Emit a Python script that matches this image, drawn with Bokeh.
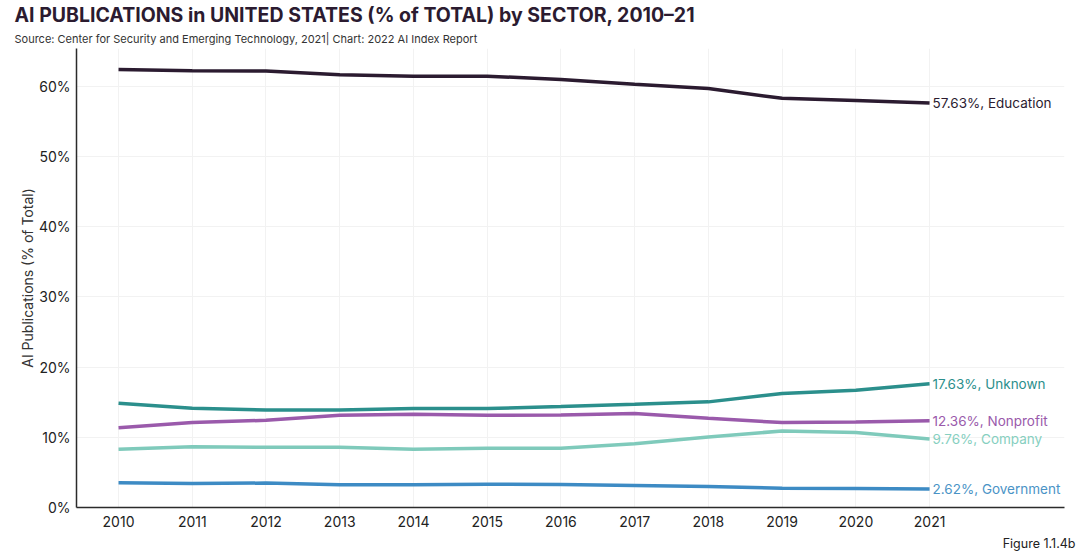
from bokeh.plotting import figure
from bokeh.models import Title, Range1d, FixedTicker, ColumnDataSource, Label
from bokeh.embed import file_html
from bokeh.resources import INLINE

years = [2010, 2011, 2012, 2013, 2014, 2015, 2016, 2017, 2018, 2019, 2020, 2021]
education = [62.4, 62.24, 62.19, 61.67, 61.46, 61.46, 61.0, 60.3, 59.7, 58.3, 57.99, 57.63]
unknown = [14.86, 14.14, 13.9, 13.9, 14.1, 14.1, 14.38, 14.71, 15.05, 16.24, 16.71, 17.63]
nonprofit = [11.38, 12.1, 12.43, 13.14, 13.29, 13.14, 13.19, 13.38, 12.71, 12.1, 12.19, 12.36]
company = [8.29, 8.67, 8.57, 8.57, 8.29, 8.43, 8.43, 9.1, 10.05, 10.9, 10.67, 9.76]
government = [3.52, 3.43, 3.48, 3.24, 3.24, 3.33, 3.29, 3.14, 3.0, 2.76, 2.71, 2.62]

series_names = ["Education", "Unknown", "Nonprofit", "Company", "Government"]
series_values = [education, unknown, nonprofit, company, government]
line_colors = ["#2b1b30", "#2b8f8c", "#9a5aab", "#7fcabb", "#3d8bc4"]
label_colors = ["#2b1b30", "#2b8f8c", "#9a5aab", "#86cfc0", "#4a93c6"]
y_ticks = [0, 10, 20, 30, 40, 50, 60]

FONT = "Inter"

p = figure(width=1080, height=555, output_backend="svg", toolbar_location=None,
           x_range=Range1d(2009.43, 2022.83), y_range=Range1d(0, 65.4),
           min_border_left=76, min_border_right=16, min_border_top=0, min_border_bottom=48)

p.title.text = "AI PUBLICATIONS in UNITED STATES (% of TOTAL) by SECTOR, 2010–21"
p.title.text_font = FONT
p.title.text_font_size = "19.5px"
p.title.text_font_style = "bold"
p.title.text_color = "#2b1b30"
p.title.offset = -62
p.title.standoff = 0
sub = Title(text="Source: Center for Security and Emerging Technology, 2021| Chart: 2022 AI Index Report",
            text_font=FONT, text_font_size="11px", text_font_style="normal",
            text_color="#333333", offset=-62, standoff=6)
p.add_layout(sub, "above")

fig_note = Title(text="Figure 1.1.4b", align="right", text_font=FONT, text_font_size="12.5px",
                 text_font_style="normal", text_color="#222222", offset=-11, standoff=9)
p.add_layout(fig_note, "below")

p.outline_line_color = None
p.background_fill_color = "white"

for name, vals, lc, tc in zip(series_names, series_values, line_colors, label_colors):
    src = ColumnDataSource(dict(x=years, y=vals))
    p.line("x", "y", source=src, line_color=lc, line_width=3.5)
    lab = Label(x=years[-1], y=vals[-1], text=f"{vals[-1]:.2f}%, {name}", x_offset=3,
                text_color=tc, text_font=FONT, text_font_size="13.5px",
                text_baseline="middle", text_align="left")
    p.add_layout(lab)

p.xaxis.ticker = FixedTicker(ticks=years)
p.yaxis.ticker = FixedTicker(ticks=y_ticks)
p.yaxis.major_label_overrides = {t: f"{t}%" for t in y_ticks}
for ax in (p.xaxis, p.yaxis):
    ax.major_tick_line_color = None
    ax.minor_tick_line_color = None
    ax.axis_line_color = "#2b2b2b"
    ax.axis_line_width = 1.5
    ax.major_label_text_font = FONT
    ax.major_label_text_font_size = "14px"
    ax.major_label_text_color = "#222222"
p.xaxis.major_label_standoff = 2
p.yaxis.major_label_standoff = 0
p.yaxis.axis_label = "AI Publications (% of Total)"
p.yaxis.axis_label_text_font = FONT
p.yaxis.axis_label_text_font_size = "14px"
p.yaxis.axis_label_text_font_style = "normal"
p.yaxis.axis_label_text_color = "#333333"
p.yaxis.axis_label_standoff = 0

p.xgrid.grid_line_color = "#f2f2f2"
p.ygrid.grid_line_color = "#f2f2f2"
p.xgrid.ticker = FixedTicker(ticks=years)
p.ygrid.ticker = FixedTicker(ticks=y_ticks)

open("out.html", "w").write(file_html(p, INLINE))
